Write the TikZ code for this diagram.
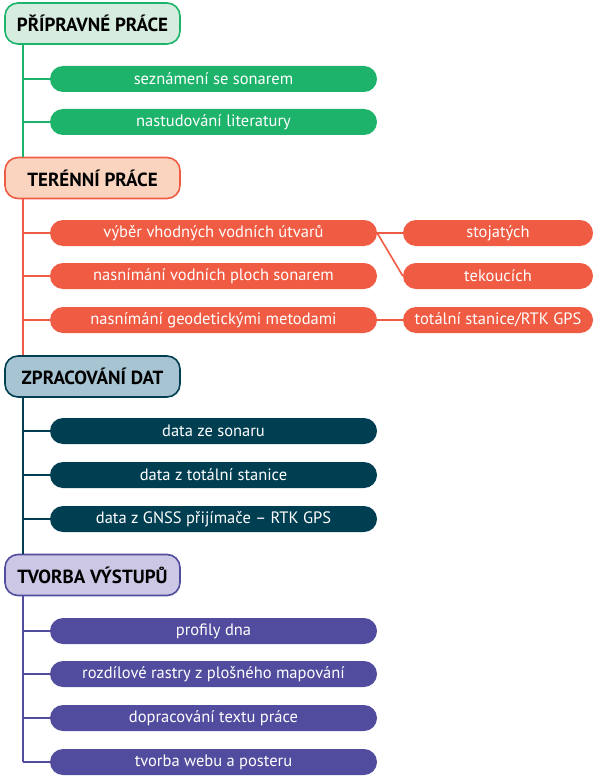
\documentclass[tikz,border=0pt]{standalone}
\usepackage{fontspec}
\setmainfont{PT Sans}
\definecolor{grn}{RGB}{29,179,106}
\definecolor{grnl}{RGB}{213,236,222}
\definecolor{crl}{RGB}{240,91,67}
\definecolor{crll}{RGB}{251,212,192}
\definecolor{tea}{RGB}{0,62,82}
\definecolor{teal2}{RGB}{166,196,210}
\definecolor{prp}{RGB}{81,76,158}
\definecolor{prpl}{RGB}{203,199,228}
\begin{document}
\begin{tikzpicture}[x=1pt,y=-1pt,
  head/.style 2 args={draw=#1,fill=#2,line width=1.6pt,rounded corners=13pt,
    minimum width=175pt,minimum height=41pt,inner sep=0pt,
    font=\bfseries\fontsize{19}{22}\selectfont},
  item/.style={fill=#1,text=white,rounded corners=13pt,minimum width=327pt,
    minimum height=26pt,inner sep=0pt,font=\fontsize{16.5}{19}\selectfont},
  side/.style={item=#1,minimum width=190pt},
  twig/.style={draw=#1,line width=1.6pt}]
\useasboundingbox (0,0) rectangle (600,778);
\coordinate (x0) at (23,0);
%
\node[head={grn}{grnl}] (h1) at (92.5,23.5) {PŘÍPRAVNÉ PRÁCE};
\foreach \n/\y/\t in {a1/79/seznámení se sonarem,a2/122/nastudování literatury}{
  \node[item=grn] (\n) at (213.5,\y) {\t};
  \draw[twig=grn] (\n.west) -- (\n.west -| x0);}
%
\node[head={crl}{crll}] (h2) at (92.5,178) {TERÉNNÍ PRÁCE};
\draw[twig=grn] (h1.south -| x0) -- (h2.north -| x0);
\foreach \n/\y/\t in {b1/233/výběr vhodných vodních útvarů,b2/276/nasnímání vodních ploch sonarem,b3/320/nasnímání geodetickými metodami}{
  \node[item=crl] (\n) at (213.5,\y) {\t};
  \draw[twig=crl] (\n.west) -- (\n.west -| x0);}
\node[side=crl] (c1) at (498,233) {stojatých};
\node[side=crl] (c2) at (498,276) {tekoucích};
\node[side=crl] (c3) at (498,320) {totální stanice/RTK GPS};
\draw[twig=crl] (b1.east) -- (c1.west);
\draw[twig=crl] (b1.east) -- (c2.west);
\draw[twig=crl] (b3.east) -- (c3.west);
%
\node[head={tea}{teal2}] (h3) at (92.5,376.5) {ZPRACOVÁNÍ DAT};
\draw[twig=crl] (h2.south -| x0) -- (h3.north -| x0);
\foreach \n/\y/\t in {d1/431/data ze sonaru,d2/475/data z totální stanice,d3/519/data z GNSS přijímače – RTK GPS}{
  \node[item=tea] (\n) at (213.5,\y) {\t};
  \draw[twig=tea] (\n.west) -- (\n.west -| x0);}
%
\node[head={prp}{prpl}] (h4) at (92.5,575) {TVORBA VÝSTUPŮ};
\draw[twig=tea] (h3.south -| x0) -- (h4.north -| x0);
\foreach \n/\y/\t in {e1/631/profily dna,e2/674/rozdílové rastry z plošného mapování,e3/718/dopracování textu práce,e4/762/tvorba webu a posteru}{
  \node[item=prp] (\n) at (213.5,\y) {\t};
  \draw[twig=prp] (\n.west) -- (\n.west -| x0);}
\draw[twig=prp] (h4.south -| x0) -- (e4.west -| x0);
\end{tikzpicture}
\end{document}
